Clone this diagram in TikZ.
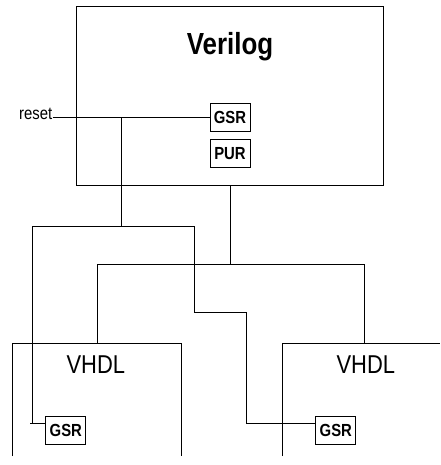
\documentclass[tikz,border=0pt]{standalone}
\usepackage{fontspec}
\newfontfamily\narrowsans[FakeStretch=0.85]{Liberation Sans}
\usetikzlibrary{positioning}

\begin{document}
\begin{tikzpicture}[
  x=1pt, y=-1pt,
  wire/.style={line width=1pt},
  block/.style={draw, line width=1pt, inner sep=0pt},
  chip/.style={draw, line width=1pt, inner sep=0pt, minimum width=40pt, minimum height=28pt,
    font=\narrowsans\bfseries\fontsize{17.5}{20}\selectfont},
  title/.style={inner sep=0pt, anchor=base},
]
  \path[fill=white, use as bounding box] (0,0) rectangle (440,465);

  % Verilog top level
  \node[block, minimum width=307pt, minimum height=178pt] (verilog) at (230,96) {};
  \node[title, font=\narrowsans\bfseries\fontsize{30.5}{34}\selectfont] (veriloglbl) at (230,55) {Verilog};
  \node[chip] (gsrtop) at (230,117.5) {GSR};
  \node[chip] (pur) at (230,153.3) {PUR};
  \node[title, anchor=base east, font=\narrowsans\fontsize{17.5}{20}\selectfont] (reset) at (52.5,119.5) {reset};

  % VHDL blocks (cut off at the bottom)
  \draw[wire] (12.3,456) |- (181.7,343.3) -- (181.7,456);
  \draw[wire] (282.3,456) |- (440,343.3);
  \node[title, font=\narrowsans\fontsize{25.8}{30}\selectfont] (vhdlleft) at (95.8,373.3) {VHDL};
  \node[title, font=\narrowsans\fontsize{25.8}{30}\selectfont] (vhdlright) at (365.8,373.3) {VHDL};
  \node[chip] (gsrleft) at (65.8,430.2) {GSR};
  \node[chip] (gsrright) at (335.8,430.2) {GSR};

  % junctions
  \coordinate (tap) at (121.3,117.5);
  \coordinate (busL) at (32.3,226);
  \coordinate (busR) at (194.3,226);
  \coordinate (jog) at (246.7,312.7);
  \coordinate (split) at (230,264);
  \coordinate (feedL) at (97.3,264);
  \coordinate (feedR) at (364.3,264);
  \coordinate (vhdlLtop) at (97.3,343.3);
  \coordinate (vhdlRtop) at (364.3,343.3);
  \coordinate (gsrLin) at ([yshift=7pt]gsrleft.west);
  \coordinate (gsrRin) at ([yshift=7pt]gsrright.west);

  % reset net
  \draw[wire] (reset.east |- gsrtop.west) -- (gsrtop.west);
  \draw[wire] (tap) -- (tap |- busL);
  \draw[wire] (busL) -- (busR);
  \draw[wire] (busL) |- (gsrLin);
  \draw[wire] ([xshift=-2pt]busL |- gsrLin) -- (gsrLin);
  \draw[wire] (busR) |- (jog) |- (gsrRin);

  % Verilog to VHDL
  \draw[wire] (verilog.south) -- (split);
  \draw[wire] (feedL) -- (feedR);
  \draw[wire] (feedL) -- (vhdlLtop);
  \draw[wire] (feedR) -- (vhdlRtop);
\end{tikzpicture}
\end{document}
